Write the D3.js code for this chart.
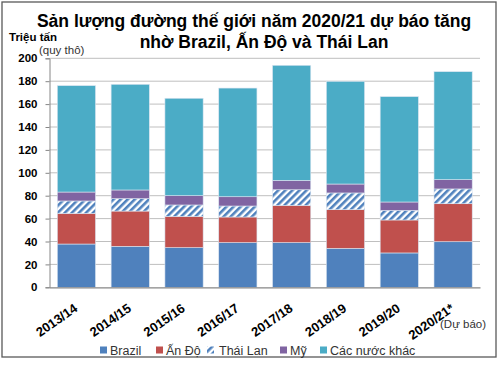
<!DOCTYPE html>
<html><head><meta charset="utf-8">
<script src="https://cdn.jsdelivr.net/npm/d3@7"></script>
<style>body{margin:0;background:#fff}svg{display:block}</style>
</head><body>
<svg id="c" width="500" height="368"></svg>
<script>
const categories = ["2013/14","2014/15","2015/16","2016/17","2017/18","2018/19","2019/20","2020/21*"];
const seriesNames = ["Brazil","Ấn Độ","Thái Lan","Mỹ","Các nước khác"];
const brazil = [37.8,35.8,34.6,39.0,39.0,34.0,30.0,39.8];
const india  = [26.8,30.8,27.4,22.4,32.6,33.8,28.8,33.2];
const thai   = [10.8,10.8,9.9,9.6,13.6,14.6,8.4,12.9];
const usa    = [7.8,7.6,8.1,8.1,8.2,7.8,7.3,8.1];
const others = [92.9,92.3,85.1,94.9,100.5,89.7,92.0,94.3];
const yTicks = [0,20,40,60,80,100,120,140,160,180,200];
const colors = ["#4F81BD","#C0504D","url(#hatch)","#8064A2","#4BACC6"];

const svg = d3.select("#c");
const defs = svg.append("defs");
const pat = defs.append("pattern").attr("id","hatch").attr("patternUnits","userSpaceOnUse")
  .attr("width",5).attr("height",5).attr("patternTransform","rotate(45)");
pat.append("rect").attr("width",5).attr("height",5).attr("fill","#fff");
pat.append("rect").attr("width",2.6).attr("height",5).attr("fill","#4F81BD");

// frame
svg.append("rect").attr("x",2).attr("y",2).attr("width",494).attr("height",355)
  .attr("fill","#fff").attr("stroke","#595959").attr("stroke-width",1.3);

const x = d3.scaleBand().domain(categories).range([49.5,480]).paddingInner(0.29).paddingOuter(0.145);
const y = d3.scaleLinear().domain([0,200]).range([287.3,58.3]);

// gridlines
svg.append("g").selectAll("line").data(yTicks.filter(d=>d>0)).join("line")
  .attr("x1",49.5).attr("x2",480).attr("y1",d=>y(d)).attr("y2",d=>y(d))
  .attr("stroke","#BFBFBF").attr("stroke-width",1);

// stacked data
const rows = categories.map((c,i)=>({cat:c,"Brazil":brazil[i],"Ấn Độ":india[i],"Thái Lan":thai[i],"Mỹ":usa[i],"Các nước khác":others[i]}));
const stack = d3.stack().keys(seriesNames)(rows);
svg.append("g").selectAll("g").data(stack).join("g")
  .attr("fill",(d,i)=>colors[i])
  .selectAll("rect").data(d=>d).join("rect")
  .attr("x",d=>x(d.data.cat)).attr("width",x.bandwidth())
  .attr("y",d=>y(d[1])).attr("height",d=>y(d[0])-y(d[1]))
  .attr("stroke","#dbe5f1").attr("stroke-width",0.6);

// y axis
const yAxis = d3.axisLeft(y).tickValues(yTicks).tickSize(4).tickPadding(8);
const ga = svg.append("g").attr("transform","translate(49.5,0)").call(yAxis);
ga.select(".domain").attr("stroke","#868686");
ga.selectAll(".tick line").attr("stroke","#868686");
ga.selectAll("text").attr("font-family","Liberation Sans, Arial, sans-serif")
  .attr("font-weight","bold").attr("font-size",11.5).attr("fill","#000");

// x axis
const xAxis = d3.axisBottom(x).tickSize(0).tickPadding(0);
const gx = svg.append("g").attr("transform","translate(0,287.3)").call(xAxis);
gx.select(".domain").attr("stroke","#868686").attr("stroke-width",1.2);
gx.selectAll("text").attr("font-family","Liberation Sans, Arial, sans-serif")
  .attr("font-weight","bold").attr("font-size",13).attr("fill","#000")
  .attr("text-anchor","end").attr("dy",null).attr("y",0)
  .attr("transform","translate(2,23) rotate(-35)");

// title
const title = svg.append("text").attr("font-family","Liberation Sans, Arial, sans-serif")
  .attr("font-weight","bold").attr("font-size",17.5).attr("fill","#000").attr("text-anchor","middle");
title.append("tspan").attr("x",254).attr("y",27).text("Sản lượng đường thế giới năm 2020/21 dự báo tăng");
title.append("tspan").attr("x",264).attr("y",48).text("nhờ Brazil, Ấn Độ và Thái Lan");

svg.append("text").attr("x",9).attr("y",41).attr("font-family","Liberation Sans, Arial, sans-serif")
  .attr("font-weight","bold").attr("font-size",11.5).text("Triệu tấn");
svg.append("text").attr("x",39).attr("y",54).attr("font-family","Liberation Sans, Arial, sans-serif")
  .attr("font-size",11.5).attr("fill","#333").text("(quy thô)");
svg.append("text").attr("x",440).attr("y",328).attr("font-family","Liberation Sans, Arial, sans-serif")
  .attr("font-size",11.5).attr("fill","#333").text("(Dự báo)");

// legend
const legX = [100,156,207,280,320];
const leg = svg.append("g").selectAll("g").data(seriesNames).join("g")
  .attr("transform",(d,i)=>`translate(${legX[i]},350)`);
leg.append("rect").attr("x",0).attr("y",-3.5).attr("width",7).attr("height",7)
  .attr("fill",(d,i)=>colors[i]);
leg.append("text").attr("x",(d,i)=>i===2?12:10).attr("y",4.5)
  .attr("font-family","Liberation Sans, Arial, sans-serif").attr("font-size",12.5).attr("fill","#333")
  .text(d=>d);
</script>
</body></html>
